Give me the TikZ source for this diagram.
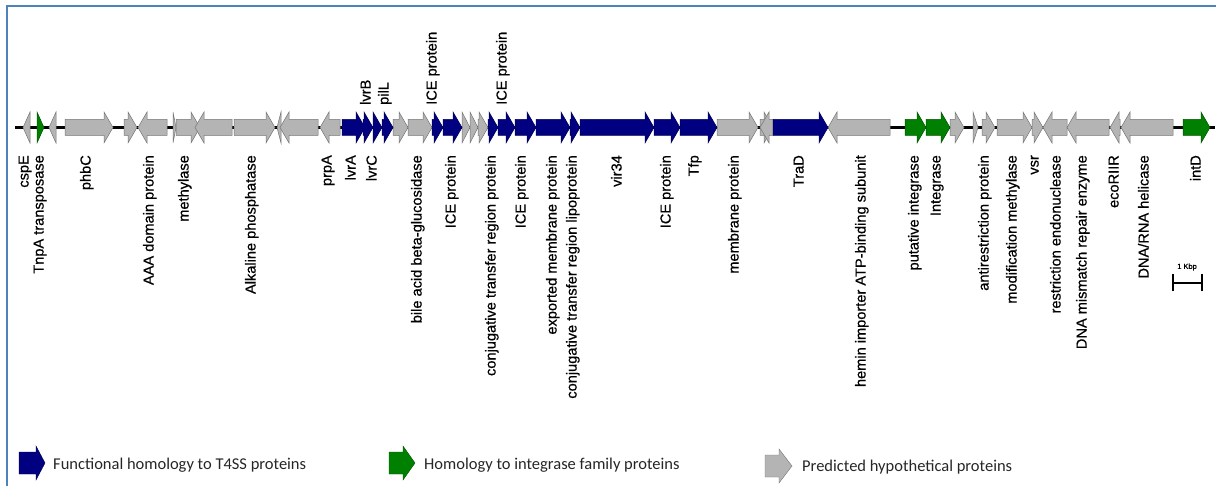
\documentclass[tikz,border=0pt]{standalone}
\usepackage{fontspec}
\setmainfont{Liberation Sans}
\newfontfamily\genefont{Liberation Sans}[FakeBold=0.6]
\newfontfamily\legendfont{Carlito}
\usepackage{xcolor}
\usepackage{tikz}

\definecolor{tfourblue}{RGB}{0,0,128}
\definecolor{integreen}{RGB}{0,128,0}
\definecolor{hypogrey}{RGB}{180,180,180}
\definecolor{frameblue}{RGB}{79,129,189}

% gene arrow pointing right: start, end, colour
\newcommand{\genefwd}[3]{%
  \pgfmathsetmacro{\ghead}{min(9,#2-#1)}%
  \pgfmathsetmacro{\gneck}{#2-\ghead}%
  \filldraw[genearrow, fill=#3, draw=#3!65!black] (#1,119.5) -- (\gneck,119.5) -- (\gneck,112)
    -- (#2,127.5) -- (\gneck,143) -- (\gneck,135.5) -- (#1,135.5) -- cycle;}
% gene arrow pointing left: start (tip), end, colour
\newcommand{\generev}[3]{%
  \pgfmathsetmacro{\ghead}{min(9,#2-#1)}%
  \pgfmathsetmacro{\gneck}{#1+\ghead}%
  \filldraw[genearrow, fill=#3, draw=#3!65!black] (#2,119.5) -- (\gneck,119.5) -- (\gneck,112)
    -- (#1,127.5) -- (\gneck,143) -- (\gneck,135.5) -- (#2,135.5) -- cycle;}

\begin{document}
\begin{tikzpicture}[x=1pt, y=-1pt,
    genearrow/.style={line width=0.5pt, line join=miter},
    glabel/.style={rotate=90, inner sep=0pt, text height=0.72em, text depth=0pt,
      font=\genefont\fontsize{14.6}{16}\selectfont},
    legtext/.style={anchor=west, inner sep=0pt, text=black!85,
      font=\legendfont\fontsize{16.5}{18}\selectfont}]
    \useasboundingbox (0,0) rectangle (1216,486);

    % frame
    \draw[frameblue, line width=2pt] (7,486) -- (7,6.5) -- (1216,6.5);

    % backbone
    \coordinate (lstart) at (15,127.5);
    \coordinate (lend) at (1215,127.5);
    \draw[line width=3pt] (lstart) -- (lend);

    % hypothetical genes
    \foreach \a/\b in {65/113, 124/137, 173/176, 176/200, 234/275, 393/408, 408/432,
        462/470, 470/478, 478/488, 717/758, 760/773, 950/964, 973/978, 982/995,
        997/1032, 1032/1043}
      \genefwd{\a}{\b}{hypogrey};
    \foreach \a/\b in {23/30, 49/56, 138/167, 195/232, 277/281, 280/318, 320/340,
        760/773, 828/890, 1043/1067, 1067/1109, 1110/1120, 1121/1173}
      \generev{\a}{\b}{hypogrey};

    % T4SS genes
    \foreach \a/\b in {342/365, 363/373, 373/382, 382/393, 432/443, 443/462,
        488/498, 498/515, 515/536, 536/570, 570/580, 580/654, 654/680, 680/717,
        773/828}
      \genefwd{\a}{\b}{tfourblue};

    % integrase genes
    \foreach \a/\b in {37/44, 905/926, 926/950, 1183/1210}
      \genefwd{\a}{\b}{integreen};

    % labels below
    \foreach \lx/\lt [count=\i] in {25/cspE, 40/TnpA transposase, 87/phbC,
        150/AAA domain protein, 185/methylase, 252/Alkaline phosphatase, 328/prpA,
        352/lvrA, 373/lvrC, 418/bile acid beta-glucosidase, 452/ICE protein,
        492/conjugative transfer region protein, 522/ICE protein,
        553/exported membrane protein, 573/conjugative transfer region lipoprotein,
        618/vir34, 667/ICE protein, 695/Tfp, 735/membrane protein, 800/TraD,
        862/hemin importer ATP-binding subunit, 915/putative integrase,
        937/Integrase, 985/antirestriction protein, 1013/modification methylase,
        1035/vsr, 1057/restriction endonuclease, 1083/DNA mismatch repair enzyme,
        1115/ecoRIIR, 1145/{DNA/RNA helicase}, 1197/intD}
      \node[glabel, anchor=east] (low\i) at (\lx,155) {\lt};

    % labels above
    \foreach \lx/\lt [count=\i] in {367/lvrB, 385/pilL, 433/ICE protein, 503/ICE protein}
      \node[glabel, anchor=west] (up\i) at (\lx,105) {\lt};

    % scale bar
    \node[inner sep=0pt, font=\genefont\fontsize{7.5}{8}\selectfont] (kbp) at (1187,267) {1 Kbp};
    \coordinate (kb0) at (1173,283);
    \coordinate (kb1) at (1202,283);
    \draw[line width=1.2pt] (kb0) -- (kb1);
    \draw[line width=1.2pt] ([yshift=-8.5pt]kb0) -- ([yshift=8.5pt]kb0);
    \draw[line width=1.2pt] ([yshift=-8.5pt]kb1) -- ([yshift=8.5pt]kb1);

    % legend
    \filldraw[fill=tfourblue, draw=tfourblue!65!black] (19,452) -- (36,452) -- (36,446)
      -- (45,463) -- (36,480) -- (36,474) -- (19,474) -- cycle;
    \node[legtext] (legtfour) at (53,465) {Functional homology to T4SS proteins};

    \filldraw[fill=integreen, draw=integreen!65!black] (389,452) -- (403,452) -- (403,446)
      -- (415,463) -- (403,480) -- (403,474) -- (389,474) -- cycle;
    \node[legtext] (leginteg) at (424,465) {Homology to integrase family proteins};

    \filldraw[fill=hypogrey, draw=hypogrey!65!black] (765,455) -- (779,455) -- (779,449)
      -- (792,466) -- (779,483) -- (779,477) -- (765,477) -- cycle;
    \node[legtext] (leghypo) at (802,467) {Predicted hypothetical proteins};

\end{tikzpicture}
\end{document}
